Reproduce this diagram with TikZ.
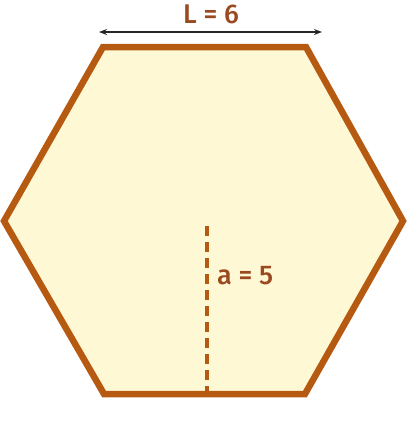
\documentclass[tikz,border=0pt]{standalone}
\usepackage{fontspec}
\setmainfont{Fira Sans}
\newfontfamily\lblfont{Fira Sans Medium}
\usetikzlibrary{arrows.meta}
\definecolor{edge}{HTML}{B65A12}
\definecolor{hexfill}{HTML}{FFF8D4}
\definecolor{txt}{HTML}{9A4A20}
\tikzset{
  hexline/.style={draw=edge, fill=hexfill, line width=6.5pt, line join=miter},
  apoth/.style={draw=edge, line width=3.2pt, dash pattern=on 10pt off 6pt},
  dimarrow/.style={draw=black!85, line width=2pt, {Stealth[length=8pt,width=6pt]}-{Stealth[length=8pt,width=6pt]}},
  lbl/.style={text=txt, font=\lblfont\fontsize{27}{29}\selectfont, inner sep=0pt}
}
\begin{document}
\begin{tikzpicture}[x=1pt,y=-1pt]
\useasboundingbox (0,0) rectangle (408,426);
\coordinate (tl) at (103,47);
\coordinate (tr) at (306,47);
\coordinate (r) at (403,221);
\coordinate (br) at (305,394);
\coordinate (bl) at (104,394);
\coordinate (l) at (4,221);
\path[hexline] (tl) -- (tr) -- (r) -- (br) -- (bl) -- (l) -- cycle;
\coordinate (atop) at (207,226);
\coordinate (abot) at (207,391);
\draw[apoth] (atop) -- (abot);
\node[lbl, anchor=west] (alabel) at (217,276) {a = 5};
\coordinate (arl) at (99,32);
\coordinate (arr) at (322,32);
\draw[dimarrow] (arl) -- (arr);
\node[lbl] (Llabel) at (211,14) {L = 6};
\end{tikzpicture}
\end{document}
